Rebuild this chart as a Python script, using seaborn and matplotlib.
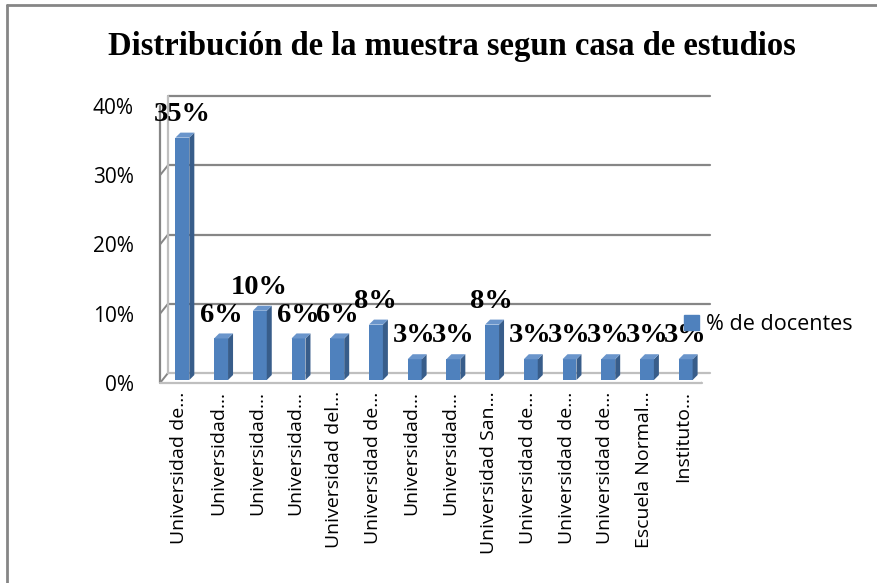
import matplotlib
matplotlib.use("Agg")
import matplotlib.pyplot as plt
import matplotlib.transforms as mtransforms
from matplotlib.patches import Polygon, Patch
import pandas as pd
import seaborn as sns

# datos
categorias = ["Universidad de…", "Universidad…", "Universidad…", "Universidad…",
              "Universidad del…", "Universidad de…", "Universidad…", "Universidad…",
              "Universidad San…", "Universidad de…", "Universidad de…", "Universidad de…",
              "Escuela Normal…", "Instituto…"]
porcentajes = [35, 6, 10, 6, 6, 8, 3, 3, 8, 3, 3, 3, 3, 3]
etiquetas = [f"{v}%" for v in porcentajes]
ticks_y = [0, 10, 20, 30, 40]
titulo = "Distribución de la muestra segun casa de estudios"
serie = "% de docentes"

AZUL = "#4F81BD"
AZUL_LADO = "#385D8A"
AZUL_TOPE = "#6A95CB"
GRIS = "#868686"
GRIS_CLARO = "#BFBFBF"
SANS = ["Open Sans", "DejaVu Sans"]
SERIF = ["Liberation Serif", "DejaVu Serif"]

sns.set_theme(style="white")
plt.rcParams["font.family"] = SANS
plt.rcParams["text.color"] = "black"

W, H = 878, 583
fig = plt.figure(figsize=(W / 100, H / 100), dpi=100)
ax = fig.add_axes([160 / W, (H - 383) / H, (702 - 160) / W, (383 - 106) / H])

df = pd.DataFrame({"pos": range(len(porcentajes)), "valor": porcentajes})
sns.barplot(data=df, x="pos", y="valor", color=AZUL, width=0.36,
            saturation=1, ax=ax, zorder=3)
ax.set_xlim(-0.5, len(porcentajes) - 0.5)
ax.set_ylim(0, 40)
for s in ax.spines.values():
    s.set_visible(False)
ax.set_xlabel("")
ax.set_ylabel("")

def desplazar(dx, dy):
    return ax.transData + mtransforms.ScaledTranslation(dx / 100, dy / 100, fig.dpi_scale_trans)

fondo = desplazar(8, 10)
ident = mtransforms.IdentityTransform()
x0, x1 = -0.5, len(porcentajes) - 0.5

# pared del fondo y lineas de guia
for t in ticks_y:
    if t > 0:
        ax.plot([x0, x1], [t, t], color=GRIS, lw=1.6, transform=fondo, zorder=1, clip_on=False)
    p0 = ax.transData.transform((x0, t))
    ax.add_line(plt.Line2D([p0[0], p0[0] + 8], [p0[1], p0[1] + 10], color=GRIS, lw=1.4,
                           transform=ident, zorder=1))
    ax.add_line(plt.Line2D([p0[0] - 7, p0[0]], [p0[1], p0[1]], color=GRIS, lw=1.4,
                           transform=ident, zorder=1))
ax.plot([x0, x0], [0, 40], color=GRIS_CLARO, lw=1.6, transform=fondo, zorder=1, clip_on=False)
ax.plot([x0, x0], [0, 40], color=GRIS, lw=1.6, zorder=2, clip_on=False)

# piso
ax.plot([x0, x1], [0, 0], color=GRIS_CLARO, lw=1.6, transform=fondo, zorder=1, clip_on=False)
ax.plot([x0, x1], [0, 0], color=GRIS_CLARO, lw=1.6, zorder=4, clip_on=False)
pr = ax.transData.transform((x1, 0))
ax.add_line(plt.Line2D([pr[0], pr[0] + 8], [pr[1], pr[1] + 10], color=GRIS_CLARO, lw=1.6,
                       transform=ident, zorder=4))
for k in range(len(porcentajes) + 1):
    pk = ax.transData.transform((x0 + k, 0))
    ax.add_line(plt.Line2D([pk[0], pk[0]], [pk[1], pk[1] - 7], color=GRIS_CLARO, lw=1.4,
                           transform=ident, zorder=4))

# barras con efecto 3d
for barra in ax.patches:
    tr = desplazar(3, 3)
    barra.set_transform(tr)
    barra.set_edgecolor("none")
    bx, bw, bh = barra.get_x(), barra.get_width(), barra.get_height()
    b = tr.transform((bx + bw, 0))
    c = tr.transform((bx + bw, bh))
    d = tr.transform((bx, bh))
    dx, dy = 5, 5
    ax.add_patch(Polygon([b, c, (c[0] + dx, c[1] + dy), (b[0] + dx, b[1] + dy)],
                         closed=True, facecolor=AZUL_LADO, edgecolor="none",
                         transform=ident, zorder=3))
    ax.add_patch(Polygon([d, c, (c[0] + dx, c[1] + dy), (d[0] + dx, d[1] + dy)],
                         closed=True, facecolor=AZUL_TOPE, edgecolor="none",
                         transform=ident, zorder=3))

# etiquetas de datos
for i, (v, txt) in enumerate(zip(porcentajes, etiquetas)):
    ax.annotate(txt, (i, v), xytext=(2, 19), textcoords="offset points",
                ha="center", va="center", fontsize=20.5, fontweight="bold",
                family=SERIF, color="black", zorder=6, annotation_clip=False)

ax.set_yticks(ticks_y)
ax.set_yticklabels([f"{t}%" for t in ticks_y])
ax.set_xticks(range(len(categorias)))
ax.set_xticklabels(categorias, rotation=90, va="top", ha="center")
ax.tick_params(axis="y", length=0, pad=19, labelsize=15, labelcolor="black")
ax.tick_params(axis="x", length=0, pad=6, labelsize=14, labelcolor="black")

fig.text(452 / W, 1 - 47 / H, titulo, ha="center", va="center", fontsize=23.5,
         fontweight="bold", family=SERIF, color="black")

fig.legend(handles=[Patch(color=AZUL)], labels=[serie], loc="center left",
           bbox_to_anchor=(684 / W, 1 - 325 / H), frameon=False, borderpad=0,
           borderaxespad=0, handlelength=0.7, handleheight=0.7, handletextpad=0.3,
           fontsize=15.5, labelcolor="black")

# marco del area del grafico
fig.add_artist(plt.Line2D([7 / W, 7 / W], [0, 1 - 5 / H], color=GRIS, lw=2))
fig.add_artist(plt.Line2D([7 / W, 1], [1 - 5 / H, 1 - 5 / H], color=GRIS, lw=2))

fig.savefig("out.png", dpi=100)
